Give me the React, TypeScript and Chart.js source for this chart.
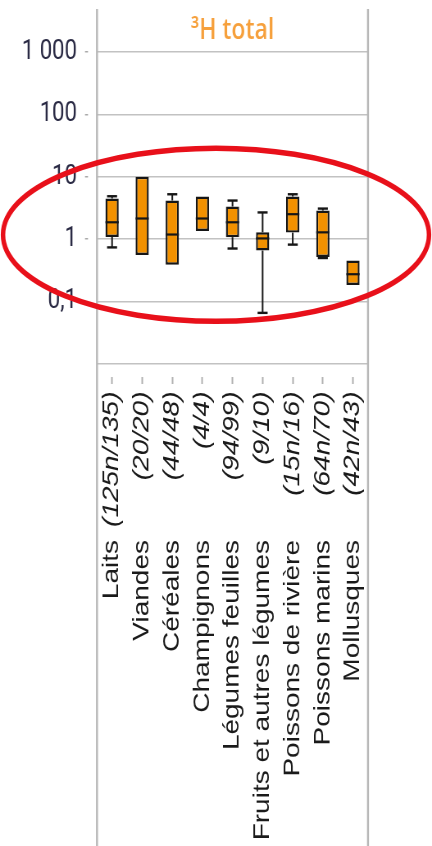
import React, { useEffect, useRef } from 'react';
import { Chart, registerables } from 'chart.js';

Chart.register(...registerables);

// ---- data ----
const CATEGORIES = [
  'Laits',
  'Viandes',
  'Céréales',
  'Champignons',
  'Légumes feuilles',
  'Fruits et autres légumes',
  'Poissons de rivière',
  'Poissons marins',
  'Mollusques',
];
const COUNTS = ['(125n/135)', '(20/20)', '(44/48)', '(4/4)', '(94/99)', '(9/10)', '(15n/16)', '(64n/70)', '(42n/43)'];
const WHISKER_MIN = [0.74, 0.56, 0.39, 1.36, 0.71, 0.066, 0.82, 0.5, 0.185];
const Q1 = [1.09, 0.56, 0.39, 1.36, 1.08, 0.66, 1.28, 0.52, 0.185];
const MEDIAN = [1.87, 2.15, 1.19, 2.15, 1.87, 1.03, 2.52, 1.29, 0.275];
const Q3 = [4.49, 10, 4.17, 4.83, 3.34, 1.29, 4.83, 2.88, 0.456];
const WHISKER_MAX = [4.89, 10, 5.26, 4.83, 4.17, 2.69, 5.26, 3.1, 0.456];
const Y_TICKS = [0.01, 0.1, 1, 10, 100, 1000];
const Y_TICK_LABELS = ['', '0,1', '1', '10', '100', '1 000'];
const TITLE = '³H total';

// ---- geometry (page px -> canvas px, canvas is squeezed horizontally) ----
const S = 432 / 527;
const CW = 527;
const CH = 846;
const px = (p: number) => p / S;

const boxPlugin = {
  id: 'boxParts',
  afterDatasetsDraw(chart: any) {
    const ctx = chart.ctx;
    const y = chart.scales.y;
    const meta = chart.getDatasetMeta(0);
    ctx.save();
    ctx.strokeStyle = '#161616';
    meta.data.forEach((bar: any, i: number) => {
      const x = bar.x;
      const w = bar.width;
      const cap = px(10);
      // median
      ctx.lineWidth = 2.2;
      ctx.beginPath();
      const ym = y.getPixelForValue(MEDIAN[i]);
      ctx.moveTo(x - w / 2, ym);
      ctx.lineTo(x + w / 2, ym);
      ctx.stroke();
      // whiskers
      const drawWhisker = (from: number, to: number) => {
        if (Math.abs(to - from) < 1e-9) return;
        const y0 = y.getPixelForValue(from);
        const y1 = y.getPixelForValue(to);
        ctx.lineWidth = 2;
        ctx.beginPath();
        ctx.moveTo(x, y0);
        ctx.lineTo(x, y1);
        ctx.stroke();
        ctx.lineWidth = 2.4;
        ctx.beginPath();
        ctx.moveTo(x - cap / 2, y1);
        ctx.lineTo(x + cap / 2, y1);
        ctx.stroke();
      };
      drawWhisker(Q3[i], WHISKER_MAX[i]);
      drawWhisker(Q1[i], WHISKER_MIN[i]);
    });
    ctx.restore();
  },
  afterDraw(chart: any) {
    const ctx = chart.ctx;
    const a = chart.chartArea;
    ctx.save();
    // frame verticals
    ctx.strokeStyle = '#b8b8b8';
    ctx.lineWidth = px(2);
    [a.left, a.right].forEach((xx: number) => {
      ctx.beginPath();
      ctx.moveTo(xx, 9);
      ctx.lineTo(xx, chart.height);
      ctx.stroke();
    });
    // red highlight ellipse
    const cy = chart.scales.y.getPixelForValue(1) - 4.5;
    ctx.strokeStyle = '#e8101a';
    ctx.lineWidth = 5.5;
    ctx.beginPath();
    ctx.ellipse(px(216), cy, px(213), 86.5, 0, 0, Math.PI * 2);
    ctx.stroke();
    ctx.restore();
  },
};

export default function App() {
  const ref = useRef<HTMLCanvasElement>(null);
  useEffect(() => {
    const canvas = ref.current!;
    const chart = new Chart(canvas, {
      type: 'bar',
      data: {
        labels: COUNTS,
        datasets: [
          {
            data: Q1.map((q, i) => [q, Q3[i]]) as any,
            backgroundColor: '#f29100',
            borderColor: '#161616',
            borderWidth: 2.4,
            borderSkipped: false,
            barPercentage: 0.44,
            categoryPercentage: 1,
            xAxisID: 'x',
            yAxisID: 'y',
          },
        ],
      },
      options: {
        animation: false,
        responsive: false,
        devicePixelRatio: 1,
        layout: { padding: { left: 0, right: CW - px(368), top: 0, bottom: 0 } },
        plugins: {
          legend: { display: false },
          tooltip: { enabled: false },
          title: {
            display: true,
            text: TITLE,
            fullSize: false,
            color: '#f6a03c',
            font: { family: 'Open Sans', size: 28, weight: '600', lineHeight: 1.2 },
            padding: { top: 14, bottom: 4.5 },
          },
        },
        scales: {
          x: {
            type: 'category',
            labels: COUNTS,
            position: 'bottom',
            weight: 0,
            offset: true,
            grid: {
              display: true,
              offset: false,
              drawOnChartArea: false,
              drawTicks: true,
              tickLength: 20,
              tickColor: '#b0b0b0',
              tickWidth: 2,
              tickBorderDash: [7, 13],
              tickBorderDashOffset: 7,
            },
            border: { display: false },
            ticks: {
              autoSkip: false,
              minRotation: 90,
              maxRotation: 90,
              padding: 7.5,
              color: '#1a1a1a',
              font: { family: 'Liberation Sans', size: 28, style: 'italic' },
            },
            afterFit: (scale: any) => {
              scale.height = 176;
            },
          },
          x2: {
            type: 'category',
            labels: CATEGORIES,
            position: 'bottom',
            weight: 1,
            offset: true,
            grid: { display: false, drawTicks: false, offset: false },
            border: { display: false },
            ticks: {
              autoSkip: false,
              minRotation: 90,
              maxRotation: 90,
              padding: 0,
              color: '#1a1a1a',
              font: { family: 'Liberation Sans', size: 28 },
            },
            afterFit: (scale: any) => {
              scale.height = CH - 540;
            },
          },
          y: {
            type: 'logarithmic',
            min: 0.01,
            max: 1000,
            position: 'left',
            afterBuildTicks: (scale: any) => {
              scale.ticks = Y_TICKS.map((v) => ({ value: v }));
            },
            afterFit: (scale: any) => {
              scale.width = px(97);
            },
            border: { display: false },
            grid: {
              color: '#c2c2c2',
              lineWidth: 1.5,
              drawTicks: true,
              tickLength: px(12),
              tickWidth: 1.5,
              tickBorderDash: [px(3), 200],
              tickColor: (c: any) => (c.tick && c.tick.value === 0.01 ? 'rgba(0,0,0,0)' : '#a8a8a8'),
            },
            ticks: {
              padding: px(8),
              color: '#2a2a44',
              font: { family: 'Roboto', size: 27 },
              callback: (v: any) => {
                const idx = Y_TICKS.findIndex((t) => Math.abs(t - Number(v)) < t * 1e-6);
                return idx >= 0 ? Y_TICK_LABELS[idx] : '';
              },
            },
          },
        },
      },
      plugins: [boxPlugin],
    } as any);
    return () => chart.destroy();
  }, []);

  return (
    <div
      style={{
        position: 'fixed',
        left: 0,
        top: 0,
        width: 432,
        height: 846,
        overflow: 'hidden',
        background: '#ffffff',
      }}
    >
      <canvas
        ref={ref}
        width={CW}
        height={CH}
        style={{
          width: CW + 'px',
          height: CH + 'px',
          display: 'block',
          transform: `scaleX(${S})`,
          transformOrigin: '0 0',
        }}
      />
    </div>
  );
}
